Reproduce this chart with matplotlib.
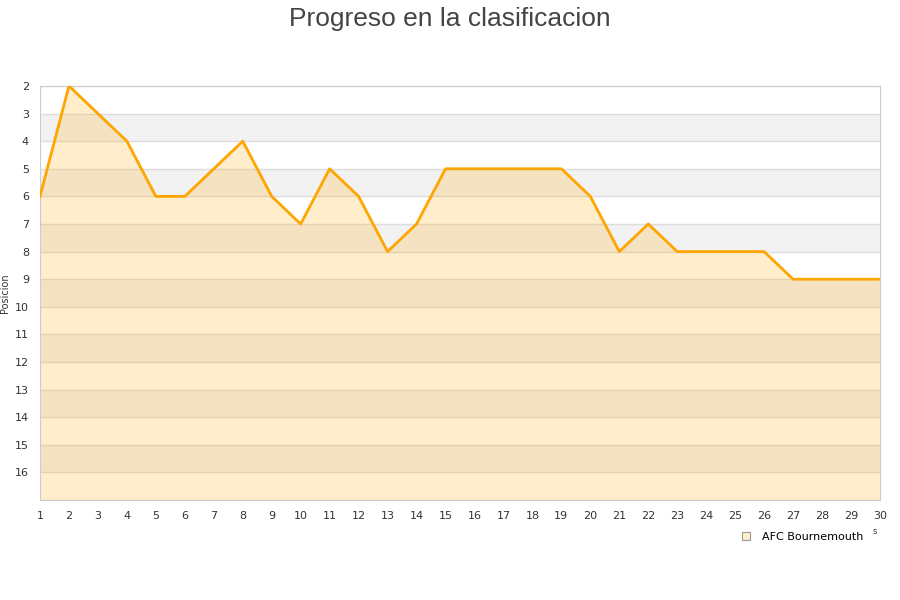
import matplotlib
matplotlib.use('Agg')
import matplotlib.pyplot as plt
from matplotlib.lines import Line2D

# jornada number and league position
jornadas = list(range(1, 31))
posicion = [6, 2, 3, 4, 6, 6, 5, 4, 6, 7, 5, 6, 8, 7, 5,
            5, 5, 5, 5, 6, 8, 7, 8, 8, 8, 8, 9, 9, 9, 9]
equipo = 'AFC Bournemouth'
y_ticks = list(range(2, 17))

fig = plt.figure(figsize=(9, 6), dpi=100)
ax = fig.add_axes([40/900, 100/600, 840/900, 414/600])

# alternating grey bands
for y in range(3, 17, 2):
    ax.axhspan(y, y + 1, color='#f2f2f2', lw=0, zorder=0)
for y in range(2, 18):
    ax.axhline(y, color='#dddddd', lw=1, zorder=1)

ax.fill_between(jornadas, posicion, 17, color='#ffa500', alpha=0.2, lw=0, zorder=2)
ax.plot(jornadas, posicion, color='#ffa500', lw=2, zorder=3)

ax.set_xlim(1, 30)
ax.set_ylim(17, 2)
ax.set_xticks(jornadas)
ax.set_yticks(y_ticks)
ax.tick_params(length=0, labelsize=8, colors='#333333', pad=8)
for side in ['top', 'right', 'bottom', 'left']:
    ax.spines[side].set_color('#cccccc')

ax.set_ylabel('Posicion', fontsize=7, color='#333333')
ax.yaxis.set_label_coords(-30/840, 0.5)
fig.text(0.5, 1 - 19/600, 'Progreso en la clasificacion', ha='center', va='center',
         fontsize=19, color='#444444', family='Liberation Sans')
fig.text(875/900, 1 - 532/600, 's', fontsize=6, color='#333333', ha='center', va='center')

handle = Line2D([], [], marker='s', ls='', markersize=6,
                markerfacecolor='#ffedcc', markeredgecolor='#999999', markeredgewidth=0.8)
fig.legend([handle], [equipo], loc='center', bbox_to_anchor=(799/900, 1 - 537/600),
           frameon=False, fontsize=8, handletextpad=0.4)

fig.savefig('out.png', dpi=100)
